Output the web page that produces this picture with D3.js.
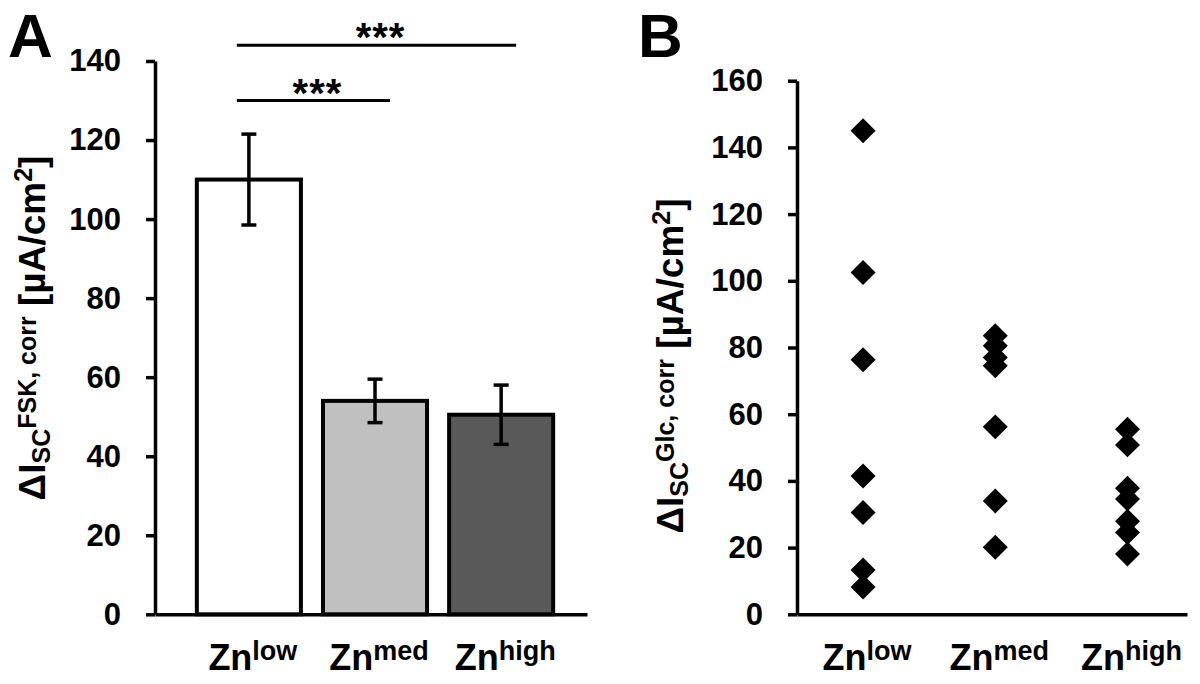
<!DOCTYPE html>
<html>
<head>
<meta charset="utf-8">
<script src="https://cdn.jsdelivr.net/npm/d3@7"></script>
<style>
  html, body { margin: 0; padding: 0; background: #fff; }
  svg { display: block; }
  text { font-family: "Liberation Sans", Arial, sans-serif; font-weight: bold; fill: #000; }
</style>
</head>
<body>
<svg id="chart" width="1200" height="684"></svg>
<script>
// ---------- data ----------
const categories = ["low", "med", "high"];
const fskMean = [110, 54, 50.5];
const fskSem = [11.5, 5.5, 7.5];
const barColors = ["#ffffff", "#c0c0c0", "#595959"];
const yTicksA = [0, 20, 40, 60, 80, 100, 120, 140];
const sigPairs = [
  { from: 0, to: 2, level: 144, label: "***" },
  { from: 0, to: 1, level: 130, label: "***" }
];
const glcLow = [145, 102.5, 76.3, 41.5, 30.5, 13.3, 8.2];
const glcMed = [83.5, 80.5, 77, 74.5, 56.2, 34, 20.1];
const glcHigh = [55.5, 50.8, 37.8, 34.6, 27.9, 24.5, 18.1];
const yTicksB = [0, 20, 40, 60, 80, 100, 120, 140, 160];

const svg = d3.select("#chart");

function catLabel(g, x, y, sup) {
  const t = g.append("text").attr("x", x).attr("y", y).attr("text-anchor", "middle");
  t.append("tspan").attr("font-size", 36).text("Zn");
  t.append("tspan").attr("font-size", 27).attr("dy", -10).text(sup);
}

function yTitle(g, x, y, supText) {
  const t = g.append("text").attr("transform", `translate(${x},${y}) rotate(-90)`)
    .attr("text-anchor", "middle").attr("font-size", 37);
  t.append("tspan").text("ΔI");
  t.append("tspan").attr("font-size", 25).attr("dy", 5).text("SC");
  t.append("tspan").attr("font-size", 25).attr("dy", -14).text(supText);
  t.append("tspan").attr("dy", 9).text(" [µA/cm");
  t.append("tspan").attr("font-size", 25).attr("dy", -13).text("2");
  t.append("tspan").attr("dy", 13).text("]");
}

// ---------- Panel A ----------
const yA = d3.scaleLinear().domain([0, 140]).range([614.3, 61]);
const xA = d3.scaleBand().domain(categories).range([155, 587])
  .paddingInner(0.175).paddingOuter(0.30).align(0.553);

const gA = svg.append("g");

gA.append("text").attr("x", 8).attr("y", 56.5).attr("font-size", 62).text("A");

const axA = gA.append("g").attr("transform", "translate(155,0)")
  .call(d3.axisLeft(yA).tickValues(yTicksA).tickSize(9).tickSizeOuter(0).tickPadding(25));
axA.selectAll("path, line").attr("stroke", "#000").attr("stroke-width", 3.5);
axA.selectAll("text").attr("font-size", 31).attr("font-family", null).attr("fill", "#000");

const axAx = gA.append("g").attr("transform", "translate(0,614.3)")
  .call(d3.axisBottom(xA).tickSize(0).tickSizeOuter(0).tickFormat(""));
axAx.selectAll("path").attr("stroke", "#000").attr("stroke-width", 3.5);
axAx.selectAll(".tick").remove();

gA.selectAll("rect.bar").data(categories).join("rect")
  .attr("class", "bar")
  .attr("x", d => xA(d))
  .attr("width", xA.bandwidth())
  .attr("y", (d, i) => yA(fskMean[i]))
  .attr("height", (d, i) => yA(0) - yA(fskMean[i]))
  .attr("fill", (d, i) => barColors[i])
  .attr("stroke", "#000").attr("stroke-width", 4);

const cx = d => xA(d) + xA.bandwidth() / 2;
const eb = gA.selectAll("g.err").data(categories).join("g").attr("class", "err")
  .attr("stroke", "#000").attr("stroke-width", 3.5);
eb.append("line").attr("x1", cx).attr("x2", cx)
  .attr("y1", (d, i) => yA(fskMean[i] + fskSem[i])).attr("y2", (d, i) => yA(fskMean[i] - fskSem[i]));
eb.append("line").attr("x1", d => cx(d) - 7.5).attr("x2", d => cx(d) + 7.5)
  .attr("y1", (d, i) => yA(fskMean[i] + fskSem[i])).attr("y2", (d, i) => yA(fskMean[i] + fskSem[i]));
eb.append("line").attr("x1", d => cx(d) - 7.5).attr("x2", d => cx(d) + 7.5)
  .attr("y1", (d, i) => yA(fskMean[i] - fskSem[i])).attr("y2", (d, i) => yA(fskMean[i] - fskSem[i]));

sigPairs.forEach(p => {
  const x1 = cx(categories[p.from]) - 12;
  const x2 = cx(categories[p.to]) + 15;
  const y = yA(p.level);
  gA.append("line").attr("x1", x1).attr("x2", x2).attr("y1", y).attr("y2", y)
    .attr("stroke", "#000").attr("stroke-width", 3);
  gA.append("text").attr("x", (x1 + x2) / 2 + 4).attr("y", y + 6)
    .attr("text-anchor", "middle").attr("font-size", 40).attr("font-weight", "normal")
    .attr("letter-spacing", 1).text(p.label);
});

categories.forEach(c => catLabel(gA, cx(c) + 4, 670, c));
yTitle(gA, 45, 328, "FSK, corr");

// ---------- Panel B ----------
const yB = d3.scaleLinear().domain([0, 160]).range([614.3, 80.7]);
const xB = d3.scalePoint().domain(categories).range([797, 1187]).padding(0.475).align(0.526);
const gB = svg.append("g");

gB.append("text").attr("x", 638).attr("y", 56.5).attr("font-size", 62).text("B");

const axB = gB.append("g").attr("transform", "translate(797,0)")
  .call(d3.axisLeft(yB).tickValues(yTicksB).tickSize(9).tickSizeOuter(0).tickPadding(25));
axB.selectAll("path, line").attr("stroke", "#000").attr("stroke-width", 3.5);
axB.selectAll("text").attr("font-size", 31).attr("font-family", null).attr("fill", "#000");

const axBx = gB.append("g").attr("transform", "translate(0,614.3)")
  .call(d3.axisBottom(xB).tickSize(0).tickSizeOuter(0).tickFormat(""));
axBx.selectAll("path").attr("stroke", "#000").attr("stroke-width", 3.5);
axBx.selectAll(".tick").remove();

const glcSeries = [glcLow, glcMed, glcHigh];
const pts = [];
categories.forEach((c, i) => glcSeries[i].forEach(v => pts.push({ c, v })));
const sym = d3.symbol().type(d3.symbolSquare).size(312);
gB.selectAll("path.pt").data(pts).join("path").attr("class", "pt")
  .attr("d", sym)
  .attr("transform", d => `translate(${xB(d.c)},${yB(d.v)}) rotate(45)`)
  .attr("fill", "#000");

categories.forEach(c => catLabel(gB, xB(c) + 4, 670, c));
yTitle(gB, 683, 366, "Glc, corr");
</script>
</body>
</html>
